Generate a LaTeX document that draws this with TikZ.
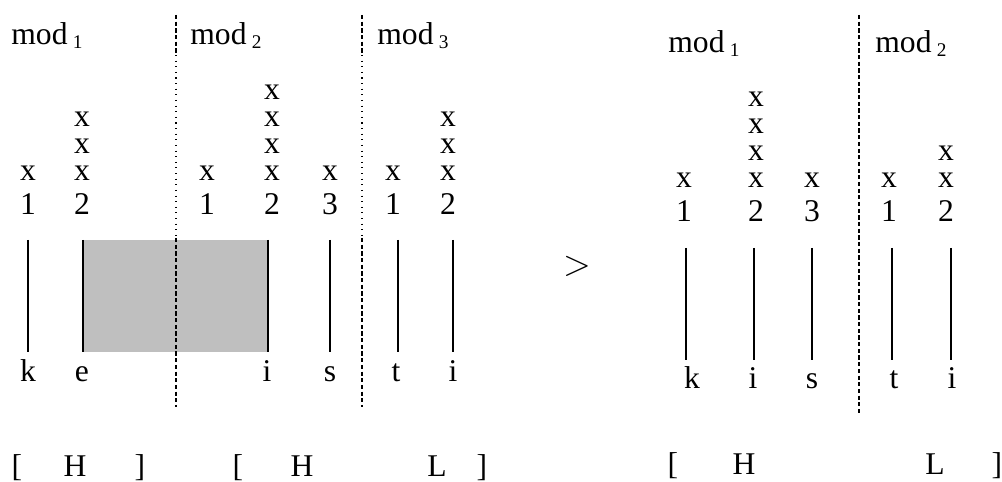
\documentclass[tikz,border=0pt]{standalone}
\usepackage{fontspec}
\setmainfont{Liberation Serif}
\usetikzlibrary{positioning}

% module label with a lowered index
\newcommand{\modsub}[1]{mod\,\raisebox{-0.25ex}{\fontsize{11}{13}\selectfont #1}}

\begin{document}
\begin{tikzpicture}[x=0.02cm, y=-0.02cm, tier/.style={draw=black, line width=1.1pt}, border/.style={draw=black, line width=0.7pt, dash pattern=on 2.4pt off 1.4pt}, dots/.style={draw=black, line width=0.6pt, dash pattern=on 0.6pt off 2.6pt}]
    % Styles for the symbols and the stacked x marks
    \tikzstyle{sym} = [inner sep=0pt, anchor=base, font=\fontsize{18}{22}\selectfont]
    \tikzstyle{lab} = [inner sep=0pt, anchor=base west, font=\fontsize{18}{22}\selectfont]
    \tikzstyle{stack} = [inner sep=0pt, anchor=south, align=center, font=\fontsize{18}{15.4}\selectfont]

    \useasboundingbox (0,0) rectangle (1002,482);

    % Shaded span (left form)
    \fill[gray!50] (83,240) rectangle (268,352);

    % Module labels
    \node [lab] (modA) at (11,45) {\modsub{1}};
    \node [lab] (modB) at (190,45) {\modsub{2}};
    \node [lab] (modC) at (377,45) {\modsub{3}};
    \node [lab] (modD) at (668,53) {\modsub{1}};
    \node [lab] (modE) at (875,53) {\modsub{2}};

    % Left form: moras and x marks
    \node [sym] (dA1) at (28,215) {1};
    \node [sym] (dA2) at (82,215) {2};
    \node [sym] (dB1) at (207,215) {1};
    \node [sym] (dB2) at (272,215) {2};
    \node [sym] (dB3) at (330,215) {3};
    \node [sym] (dC1) at (393,215) {1};
    \node [sym] (dC2) at (448,215) {2};
    \node [stack] (xA1) at (28,181) {x};
    \node [stack] (xA2) at (82,181) {x\\x\\x};
    \node [stack] (xB1) at (207,181) {x};
    \node [stack] (xB2) at (272,181) {x\\x\\x\\x};
    \node [stack] (xB3) at (330,181) {x};
    \node [stack] (xC1) at (393,181) {x};
    \node [stack] (xC2) at (448,181) {x\\x\\x};

    % Left form: segments
    \node [sym] (sk) at (28,382) {k};
    \node [sym] (se) at (82,382) {e};
    \node [sym] (si) at (267,382) {i};
    \node [sym] (ss) at (330,382) {s};
    \node [sym] (st) at (396,382) {t};
    \node [sym] (sj) at (453,382) {i};

    % Left form: tone tiers
    \node [sym] (lbA) at (17,477) {[};
    \node [sym] (hA) at (75,477) {H};
    \node [sym] (rbA) at (140,477) {]};
    \node [sym] (lbB) at (238,477) {[};
    \node [sym] (hB) at (302,477) {H};
    \node [sym] (lB) at (437,477) {L};
    \node [sym] (rbB) at (482,477) {]};

    \node [sym, anchor=center, font=\fontsize{22}{26}\selectfont] (gt) at (577,266) {$>$};

    % Right form: moras and x marks
    \node [sym] (dD1) at (684,222) {1};
    \node [sym] (dD2) at (756,222) {2};
    \node [sym] (dD3) at (812,222) {3};
    \node [sym] (dE1) at (889,222) {1};
    \node [sym] (dE2) at (946,222) {2};
    \node [stack] (xD1) at (684,188) {x};
    \node [stack] (xD2) at (756,188) {x\\x\\x\\x};
    \node [stack] (xD3) at (812,188) {x};
    \node [stack] (xE1) at (889,188) {x};
    \node [stack] (xE2) at (946,188) {x\\x};

    % Right form: segments
    \node [sym] (rk) at (692,389) {k};
    \node [sym] (ri) at (753,389) {i};
    \node [sym] (rs) at (812,389) {s};
    \node [sym] (rt) at (894,389) {t};
    \node [sym] (rj) at (952,389) {i};

    % Right form: tone tier
    \node [sym] (lbC) at (673,475) {[};
    \node [sym] (hC) at (744,475) {H};
    \node [sym] (lC) at (935,475) {L};
    \node [sym] (rbC) at (997,475) {]};

    % Association lines
    \coordinate (tk) at (28,240);  \coordinate (bk) at (28,352);
    \coordinate (te) at (83,240);  \coordinate (be) at (83,352);
    \coordinate (ti) at (268,240); \coordinate (bi) at (268,352);
    \coordinate (ts) at (330,240); \coordinate (bs) at (330,352);
    \coordinate (tt) at (398,240); \coordinate (bt) at (398,352);
    \coordinate (tj) at (453,240); \coordinate (bj) at (453,352);
    \draw[tier] (tk) -- (bk);
    \draw[tier] (te) -- (be);
    \draw[tier] (ti) -- (bi);
    \draw[tier] (ts) -- (bs);
    \draw[tier] (tt) -- (bt);
    \draw[tier] (tj) -- (bj);

    \coordinate (uk) at (686,248); \coordinate (vk) at (686,360);
    \coordinate (ui) at (754,248); \coordinate (vi) at (754,360);
    \coordinate (us) at (812,248); \coordinate (vs) at (812,360);
    \coordinate (ut) at (892,248); \coordinate (vt) at (892,360);
    \coordinate (uj) at (951,248); \coordinate (vj) at (951,360);
    \draw[tier] (uk) -- (vk);
    \draw[tier] (ui) -- (vi);
    \draw[tier] (us) -- (vs);
    \draw[tier] (ut) -- (vt);
    \draw[tier] (uj) -- (vj);

    % Module boundaries
    \coordinate (pA) at (176,15); \coordinate (qA) at (176,55);
    \coordinate (rA) at (176,238); \coordinate (wA) at (176,407);
    \coordinate (pB) at (362,15); \coordinate (qB) at (362,55);
    \coordinate (rB) at (362,238); \coordinate (wB) at (362,407);
    \draw[border] (pA) -- (qA);
    \draw[dots] (qA) -- (rA);
    \draw[border] (rA) -- (wA);
    \draw[border] (pB) -- (qB);
    \draw[dots] (qB) -- (rB);
    \draw[border] (rB) -- (wB);

    \coordinate (pC) at (859,15); \coordinate (wC) at (859,415);
    \draw[border] (pC) -- (wC);
\end{tikzpicture}
\end{document}
